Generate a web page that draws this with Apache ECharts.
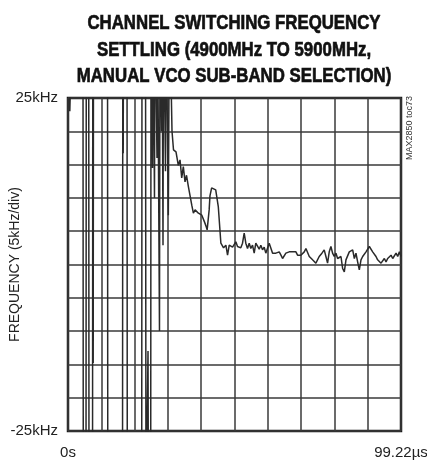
<!DOCTYPE html>
<html>
<head>
<meta charset="utf-8">
<script src="https://cdn.jsdelivr.net/npm/echarts@6/dist/echarts.min.js"></script>
<style>html,body{margin:0;padding:0;background:#fff}#c{width:427px;height:460px}</style>
</head>
<body>
<div id="c"></div>
<script>
// time in microseconds
var timeUs = [0,0.54,0.89,4.47,4.56,5.36,5.45,6.17,6.26,7.30,7.39,7.51,7.60,11.77,11.86,16.24,16.33,16.45,16.54,17.58,17.67,21.96,22.05,23.09,23.24,23.69,23.84,23.99,24.64,24.73,25.03,25.18,25.33,25.62,25.77,25.92,26.37,26.52,26.67,27.11,27.26,27.41,27.71,27.86,28.01,28.22,28.31,28.46,28.90,29.05,29.20,29.50,29.89,30.24,30.69,30.99,31.44,
32.18,32.87,33.38,33.88,34.36,34.87,35.31,35.87,36.37,36.88,37.36,37.87,38.38,38.86,39.37,39.87,40.36,40.66,41.16,41.46,41.85,42.06,42.30,42.80,43.29,44.01,44.78,45.55,46.35,47.04,47.54,48.04,49.03,50.01,50.51,51.01,51.49,52.00,52.50,52.98,53.49,53.99,54.47,54.98,55.48,55.96,56.97,57.45,57.96,58.46,58.94,59.45,59.95,60.46,60.96,61.46,61.95,62.94,63.45,63.93,64.92,65.91,66.43,66.92,67.41,67.91,68.40,69.39,70.40,70.89,71.39,71.89,72.87,73.86,74.85,75.66,76.34,76.85,77.34,77.84,78.34,78.83,79.33,79.84,80.33,81.33,81.83,82.33,82.82,83.81,84.82,85.32,85.80,86.30,86.80,87.30,87.80,88.79,89.79,90.78,91.77,92.26,92.77,93.27,93.76,94.26,94.76,95.25,95.77,96.25,96.75,97.25,97.75,98.24,98.74,99.22];
// frequency offset in kHz
var freqKHz = [30,23,30,30,-40,-40,40,40,-40,-40,40,-14.8,40,40,-40,-40,40,16.7,40,40,-40,-40,40,40,-40,-40,-13,-40,-40,40,40,14.5,40,40,10,40,40,16,40,40,-10,40,40,20,40,40,2.9,40,40,14,40,40,7.4,40,40,20,17.2,
16.9,14.9,15.7,13.0,14.7,12.4,13.4,11.7,11.9,8.9,7.7,8.2,7.9,7.7,7.9,7.4,7.2,6.4,5.7,5.2,5.2,8.2,10.3,11.5,11.8,11.2,8.7,3.2,2.5,2.9,1.4,2.9,2.6,3.4,2.7,2.5,2.5,3.2,4.7,3.2,2.4,3.2,2.4,2.9,1.7,3.2,2.3,2.9,2.2,2.6,1.7,1.7,3.2,3.4,1.7,1.9,1.7,1.9,1.4,0.9,1.7,1.9,1.7,1.9,1.7,1.9,1.4,1.4,1.9,2.4,2.7,1.2,0.7,0.2,1.2,1.7,2.2,1.2,0.2,1.9,2.7,1.7,1.2,1.7,0.9,1.2,-0.6,-1.1,0.7,1.9,2.2,0.9,1.7,0.4,-0.8,0.7,1.2,1.9,2.7,1.9,1.2,0.7,0.4,0.2,-0.1,0.9,0.4,0.9,0.7,1.4,0.9,1.2,1.7,1.2,1.9,1.2,0.9,1.3,1.0,0.9,1.2,1.5,1.1,0.9];
var xMin = 0, xMax = 99.22, xInterval = 9.922;
var yMin = -25, yMax = 25, yInterval = 5;
var xTickLabels = {first: '0s', last: '99.22µs'};
var yTickLabels = {first: '-25kHz', last: '25kHz'};
var titleText = 'CHANNEL SWITCHING FREQUENCY\nSETTLING (4900MHz TO 5900MHz,\nMANUAL VCO SUB-BAND SELECTION)';
var yName = 'FREQUENCY (5kHz/div)';
var noteText = 'MAX2850 toc73';

var n = Math.min(timeUs.length, freqKHz.length);
var data = [];
for (var i = 0; i < n; i++) data.push([timeUs[i], freqKHz[i]]);

var chart = echarts.init(document.getElementById('c'), null, {renderer: 'canvas'});
var ff = "'Liberation Sans', Arial, sans-serif";
chart.setOption({
  animation: false,
  backgroundColor: '#fff',
  grid: {left: 68, right: 26, top: 98, bottom: 29, containLabel: false, outerBoundsMode: 'none',
         show: true, borderColor: '#1a1a1a', borderWidth: 2.5, backgroundColor: 'transparent'},
  graphic: [
    {type: 'text', x: 234, y: 10, scaleX: 0.8, style: {text: titleText, textAlign: 'center', textVerticalAlign: 'top', font: 'bold 21px ' + ff, lineHeight: 26.5, fill: '#111', stroke: '#111', lineWidth: 0.7}, silent: true},
    {type: 'text', x: 405, y: 160, rotation: Math.PI / 2, style: {text: noteText, textAlign: 'left', textVerticalAlign: 'top', font: '9px ' + ff, fill: '#333'}, silent: true}
  ],
  xAxis: {
    type: 'value', min: xMin, max: xMax, interval: xInterval,
    axisLine: {show: false}, axisTick: {show: false},
    splitLine: {show: true, lineStyle: {color: '#3a3a3a', width: 1.5}},
    axisLabel: {
      margin: 14, fontFamily: ff, fontSize: 15, color: '#222', showMinLabel: true, showMaxLabel: true,
      formatter: function (v) { if (Math.abs(v - xMin) < 1e-6) return xTickLabels.first; if (Math.abs(v - xMax) < 1e-6) return xTickLabels.last; return ''; }
    }
  },
  yAxis: {
    type: 'value', min: yMin, max: yMax, interval: yInterval,
    name: yName, nameLocation: 'middle', nameGap: 46, nameRotate: 90, nameMoveOverlap: false,
    nameTextStyle: {fontFamily: ff, fontSize: 14, color: '#222'},
    axisLine: {show: false}, axisTick: {show: false},
    splitLine: {show: true, lineStyle: {color: '#3a3a3a', width: 1.5}},
    axisLabel: {
      margin: 10, fontFamily: ff, fontSize: 15, color: '#222',
      formatter: function (v) { if (Math.abs(v - yMin) < 1e-6) return yTickLabels.first; if (Math.abs(v - yMax) < 1e-6) return yTickLabels.last; return ''; }
    }
  },
  series: [{
    type: 'line', data: data, showSymbol: false, symbol: 'none', clip: true,
    lineStyle: {color: '#2a2a2a', width: 1.5}, z: 3
  }]
});
</script>
</body>
</html>
